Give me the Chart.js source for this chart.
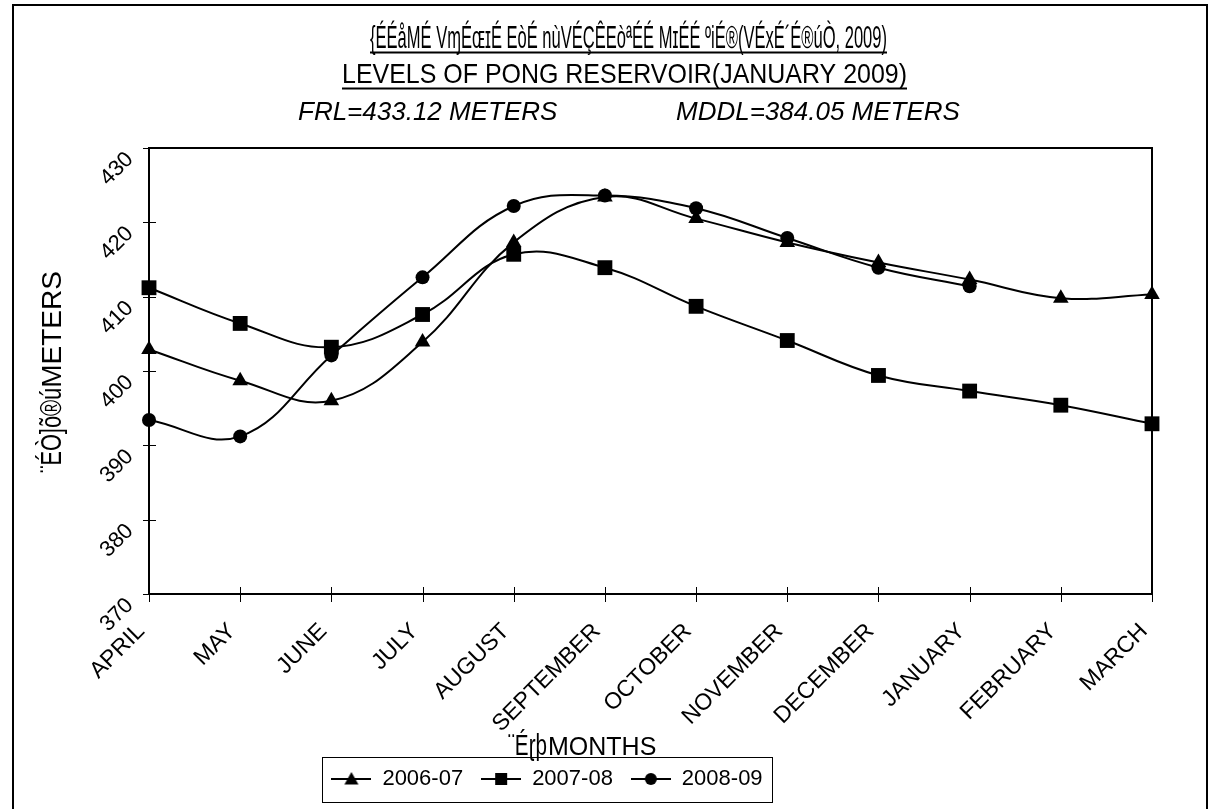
<!DOCTYPE html>
<html>
<head>
<meta charset="utf-8">
<script src="https://cdn.jsdelivr.net/npm/chart.js@4.4.1/dist/chart.umd.min.js"></script>
<style>
  html, body { margin: 0; padding: 0; background: #fff; }
  #wrap { width: 1213px; height: 809px; }
</style>
</head>
<body>
<div id="wrap"><canvas id="pong" width="1213" height="809"></canvas></div>
<script>
// month labels and reservoir levels (metres)
const months = ['APRIL', 'MAY', 'JUNE', 'JULY', 'AUGUST', 'SEPTEMBER', 'OCTOBER',
  'NOVEMBER', 'DECEMBER', 'JANUARY', 'FEBRUARY', 'MARCH'];
const levels0607 = [402.9, 398.7, 396.0, 403.9, 417.3, 423.4, 420.5, 417.3, 414.6, 412.3, 409.8, 410.3];
const levels0708 = [411.2, 406.4, 403.2, 407.6, 415.7, 413.9, 408.7, 404.1, 399.4, 397.3, 395.4, 392.9];
const levels0809 = [393.4, 391.2, 402.1, 412.6, 422.2, 423.6, 421.9, 417.9, 413.9, 411.4, null, null];
const seriesNames = ['2006-07', '2007-08', '2008-09'];
const yMin = 370, yMax = 430, yStep = 10;

const titleHindi = '{ÉÉåMÉ VɱÉɶɪÉ EòÉ nùVÉÇÊEòªÉÉ MɪÉÉ ºiÉ®(VÉxÉ´É®úÒ, 2009)';
const titleEnglish = 'LEVELS OF PONG RESERVOIR(JANUARY 2009)';
const frlText = 'FRL=433.12 METERS';
const mddlText = 'MDDL=384.05 METERS';
const yTitleHindi = '¨ÉÒ]õ®ú';
const yTitle = 'METERS';
const xTitleHindi = '¨Éɽþ';
const xTitle = 'MONTHS';

const SANS = '"Liberation Sans", Arial, sans-serif';
const NARROW = '"Liberation Sans Narrow", "Arial Narrow", "Liberation Sans", sans-serif';
const LEGEND_PAD = 18;

// little line+marker pictures for the legend
function legendIcon(style) {
  const c = document.createElement('canvas');
  c.width = 40; c.height = 16;
  const g = c.getContext('2d');
  g.strokeStyle = '#000';
  g.lineWidth = 2;
  g.beginPath(); g.moveTo(0, 8); g.lineTo(40, 8); g.stroke();
  g.fillStyle = '#000';
  g.beginPath();
  if (style === 'triangle') { g.moveTo(20, 1); g.lineTo(27, 13.5); g.lineTo(13, 13.5); g.closePath(); }
  else if (style === 'rect') g.rect(14, 2, 12, 12);
  else g.arc(20, 8, 6, 0, Math.PI * 2);
  g.fill();
  return c;
}
const icons = [legendIcon('triangle'), legendIcon('rect'), legendIcon('circle')];

const frame = {
  id: 'frame',
  afterLayout(chart) {
    // legend in the original sits left of centre
    chart.legend.left = 0;
    chart.legend.right = 1094;
  },
  beforeDraw(chart) {
    const ctx = chart.ctx;
    ctx.save();
    ctx.fillStyle = '#fff';
    ctx.fillRect(0, 0, chart.width, chart.height);
    ctx.strokeStyle = '#000';
    ctx.lineWidth = 2;
    ctx.strokeRect(13, 5, 1194, 900);
    ctx.restore();
  },
  beforeDatasetsDraw(chart) {
    const { ctx, chartArea: a } = chart;
    const xs = chart.scales.x, ys = chart.scales.y;
    ctx.save();
    ctx.strokeStyle = '#000';
    ctx.lineWidth = 2;
    ctx.strokeRect(a.left, a.top, a.right - a.left, a.bottom - a.top);
    ctx.lineWidth = 1;
    ctx.beginPath();
    xs.ticks.forEach((t, i) => {
      const x = Math.round(xs.getPixelForTick(i)) + 0.5;
      ctx.moveTo(x, a.bottom - 7); ctx.lineTo(x, a.bottom + 8);
    });
    ys.ticks.forEach(t => {
      const y = Math.round(ys.getPixelForValue(t.value)) + 0.5;
      ctx.moveTo(a.left - 6, y); ctx.lineTo(a.left + 7, y);
    });
    ctx.stroke();
    ctx.restore();
  },
  afterDraw(chart) {
    const { ctx, chartArea: a } = chart;
    const ys = chart.scales.y;
    ctx.save();
    ctx.fillStyle = '#000';
    ctx.strokeStyle = '#000';

    // rotated y tick labels
    ctx.font = '22px ' + SANS;
    ctx.textAlign = 'center';
    ctx.textBaseline = 'middle';
    ys.ticks.forEach(t => {
      const y = ys.getPixelForValue(t.value);
      ctx.save();
      ctx.translate(a.left - 32, y + 21);
      ctx.rotate(-Math.PI / 4);
      ctx.fillText(String(t.value), 0, 0);
      ctx.restore();
    });

    // titles
    ctx.textAlign = 'left';
    ctx.textBaseline = 'alphabetic';
    ctx.lineWidth = 2;
    ctx.font = '32px ' + NARROW;
    let w = Math.min(ctx.measureText(titleHindi).width, 517);
    ctx.fillText(titleHindi, 370, 48, 517);
    ctx.beginPath(); ctx.moveTo(370, 52.5); ctx.lineTo(370 + w, 52.5); ctx.stroke();
    ctx.font = '28px ' + NARROW;
    w = Math.min(ctx.measureText(titleEnglish).width, 565);
    ctx.fillText(titleEnglish, 342, 83, 565);
    ctx.beginPath(); ctx.moveTo(342, 88.5); ctx.lineTo(342 + w, 88.5); ctx.stroke();
    ctx.font = 'italic 26px ' + SANS;
    ctx.fillText(frlText, 298, 120, 262);
    ctx.fillText(mddlText, 676, 120, 288);

    // axis titles
    ctx.font = '30px ' + NARROW;
    ctx.fillText(xTitleHindi, 508, 755, 39);
    ctx.font = '25px ' + SANS;
    ctx.fillText(xTitle, 548, 755);

    ctx.save();
    ctx.translate(61, 372);
    ctx.rotate(-Math.PI / 2);
    ctx.font = '28px ' + SANS;
    const mw = ctx.measureText(yTitle).width;
    const total = 85 + mw;
    ctx.font = '30px ' + NARROW;
    ctx.fillText(yTitleHindi, -total / 2, 0, 85);
    ctx.font = '28px ' + SANS;
    ctx.fillText(yTitle, -total / 2 + 85, 0);
    ctx.restore();

    // legend frame
    const lg = chart.legend;
    const cy = lg.top + LEGEND_PAD + 11;
    ctx.lineWidth = 1;
    ctx.strokeRect(322.5, Math.round(cy - 22.5) + 0.5, 450, 45);
    ctx.restore();
  }
};

const baseSet = {
  borderColor: '#000',
  backgroundColor: '#000',
  pointBackgroundColor: '#000',
  borderWidth: 2,
  pointBorderWidth: 0,
  tension: 0.4,
  clip: false
};

new Chart(document.getElementById('pong'), {
  type: 'line',
  data: {
    labels: months,
    datasets: [
      { ...baseSet, label: seriesNames[0], data: levels0607, pointStyle: 'triangle', pointRadius: 9 },
      { ...baseSet, label: seriesNames[1], data: levels0708, pointStyle: 'rect', pointRadius: 10.5 },
      { ...baseSet, label: seriesNames[2], data: levels0809, pointStyle: 'circle', pointRadius: 7 }
    ]
  },
  options: {
    responsive: false,
    animation: false,
    events: [],
    layout: { padding: { top: 148, right: 61, bottom: 9, left: 0 } },
    plugins: {
      tooltip: { enabled: false },
      legend: {
        position: 'bottom',
        labels: {
          usePointStyle: true,
          pointStyleWidth: 40,
          padding: LEGEND_PAD,
          color: '#000',
          font: { family: SANS, size: 22 },
          generateLabels(chart) {
            const items = Chart.defaults.plugins.legend.labels.generateLabels(chart);
            items.forEach((it, i) => { it.pointStyle = icons[i]; });
            return items;
          }
        }
      }
    },
    scales: {
      x: {
        grid: { display: false, drawTicks: false },
        border: { display: false },
        ticks: {
          autoSkip: false,
          minRotation: 45,
          maxRotation: 45,
          padding: 24,
          labelOffset: -8,
          color: '#000',
          font: { family: SANS, size: 23 }
        },
        afterFit(s) { s.height = s.chart.height - 9 - s.chart.legend.height - 594; }
      },
      y: {
        min: yMin,
        max: yMax,
        ticks: { stepSize: yStep, display: false },
        grid: { display: false, drawTicks: false },
        border: { display: false },
        afterFit(s) { s.width = 149; }
      }
    }
  },
  plugins: [frame]
});
</script>
</body>
</html>
